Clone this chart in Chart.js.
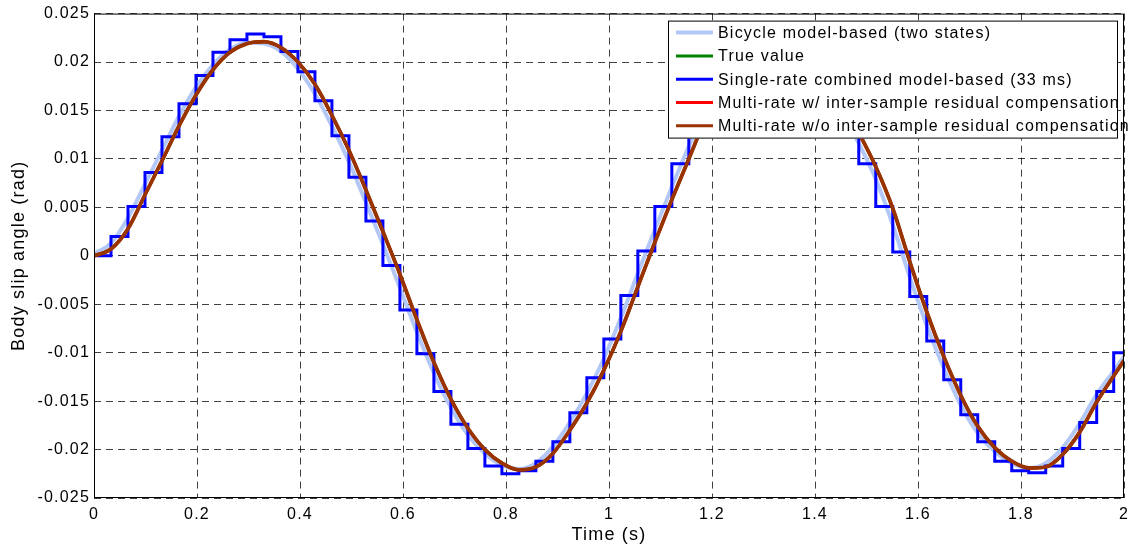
<!DOCTYPE html>
<html>
<head>
<meta charset="utf-8">
<title>Body slip angle</title>
<script src="https://cdn.jsdelivr.net/npm/chart.js@4.4.1/dist/chart.umd.min.js"></script>
<style>
  html, body { margin: 0; padding: 0; background: #fff; }
  #wrap { width: 1137px; height: 551px; position: relative; }
</style>
</head>
<body>
<div id="wrap"><canvas id="slipChart"></canvas></div>
<script>
// sample instants of the 33 ms estimator (last entry closes the plot at 2 s)
const sampleTimes = [
  0, 0.033, 0.066, 0.099, 0.132, 0.165, 0.198, 0.231, 0.264, 0.297,
  0.33, 0.363, 0.396, 0.429, 0.462, 0.495, 0.528, 0.561, 0.594, 0.627,
  0.66, 0.693, 0.726, 0.759, 0.792, 0.825, 0.858, 0.891, 0.924, 0.957,
  0.99, 1.023, 1.056, 1.089, 1.122, 1.155, 1.188, 1.221, 1.254, 1.287,
  1.32, 1.353, 1.386, 1.419, 1.452, 1.485, 1.518, 1.551, 1.584, 1.617,
  1.65, 1.683, 1.716, 1.749, 1.782, 1.815, 1.848, 1.881, 1.914, 1.947,
  1.98, 2.0
];

// bicycle model-based estimate (two states)
const bicycleSlip = [
  0.0002, 0.0013, 0.0039, 0.0074, 0.0109, 0.0144, 0.0174, 0.0197, 0.0213, 0.0220,
  0.0219, 0.0211, 0.0193, 0.0167, 0.0134, 0.0097, 0.0055, 0.0012, -0.0033, -0.0079,
  -0.0121, -0.0157, -0.0185, -0.0204, -0.0216, -0.0220, -0.0214, -0.0197, -0.0172, -0.0142,
  -0.0106, -0.0064, -0.0018, 0.0027, 0.0071, 0.0113, 0.0152, 0.0183, 0.0205, 0.0217,
  0.0220, 0.0215, 0.0199, 0.0177, 0.0149, 0.0116, 0.0079, 0.0032, -0.0022, -0.0072,
  -0.0116, -0.0154, -0.0183, -0.0202, -0.0214, -0.0219, -0.0214, -0.0198, -0.0173, -0.0143,
  -0.0119, -0.0104
];

// measured body slip angle
const trueSlip = [
  0, 0.0007, 0.0028, 0.0063, 0.0098, 0.0134, 0.0166, 0.0192, 0.0210, 0.0219,
  0.0221, 0.0215, 0.0200, 0.0177, 0.0145, 0.0109, 0.0068, 0.0025, -0.0019, -0.0066,
  -0.0110, -0.0148, -0.0178, -0.0200, -0.0214, -0.0221, -0.0218, -0.0204, -0.0180, -0.0152,
  -0.0118, -0.0078, -0.0032, 0.0014, 0.0058, 0.0100, 0.0142, 0.0176, 0.0200, 0.0215,
  0.0221, 0.0219, 0.0205, 0.0185, 0.0159, 0.0127, 0.0092, 0.0049, -0.0006, -0.0058,
  -0.0104, -0.0144, -0.0176, -0.0198, -0.0212, -0.0219, -0.0218, -0.0205, -0.0182, -0.0151,
  -0.0124, -0.0108
];

// single-rate combined estimate, held over each 33 ms interval
const singleRateSlip = [
  0, 0.0020, 0.0051, 0.0086, 0.0123, 0.0157, 0.0186, 0.0210, 0.0223, 0.0229,
  0.0226, 0.0211, 0.0190, 0.0160, 0.0124, 0.0081, 0.0036, -0.0010, -0.0056, -0.0101,
  -0.0140, -0.0174, -0.0199, -0.0217, -0.0225, -0.0222, -0.0212, -0.0192, -0.0162, -0.0126,
  -0.0086, -0.0041, 0.0005, 0.0051, 0.0095, 0.0135, 0.0170, 0.0198, 0.0216, 0.0225,
  0.0225, 0.0216, 0.0198, 0.0172, 0.0135, 0.0095, 0.0051, 0.0004, -0.0042, -0.0088,
  -0.0128, -0.0164, -0.0192, -0.0212, -0.0222, -0.0224, -0.0217, -0.0199, -0.0172, -0.0140,
  -0.0100, -0.0100
];

// multi-rate estimates lie on top of the measured value
const multiRateWithComp = trueSlip;
const multiRateWithoutComp = trueSlip;

const xTicks = [0, 0.2, 0.4, 0.6, 0.8, 1, 1.2, 1.4, 1.6, 1.8, 2];
const yTicks = [-0.025, -0.02, -0.015, -0.01, -0.005, 0, 0.005, 0.01, 0.015, 0.02, 0.025];

const FONT = "'Liberation Sans', Arial, Helvetica, sans-serif";

function toPoints(values) {
  return values.map((v, i) => ({ x: sampleTimes[i], y: v }));
}

// MATLAB style box around the axes plus a boxed legend inside the plot
const axesBox = {
  id: 'axesBox',
  beforeDraw(chart) {
    chart.ctx.letterSpacing = '1.2px';
  },
  afterDraw(chart) {
    const { ctx, chartArea: a } = chart;
    ctx.save();
    ctx.strokeStyle = '#000';
    ctx.lineWidth = 1;
    ctx.strokeRect(a.left + 0.5, a.top + 0.5, a.right - a.left - 1, a.bottom - a.top - 1);

    const boxR = a.right - 6, boxL = boxR - 450;
    const boxT = a.top + 7, boxB = boxT + 118;
    ctx.fillStyle = '#fff';
    ctx.fillRect(boxL, boxT, boxR - boxL, boxB - boxT);
    ctx.strokeRect(boxL + 0.5, boxT + 0.5, boxR - boxL - 1, boxB - boxT - 1);

    ctx.font = '16px ' + FONT;
    ctx.textBaseline = 'middle';
    ctx.textAlign = 'left';
    ctx.letterSpacing = '1.2px';
    chart.data.datasets.forEach((ds, i) => {
      const y = boxT + 12 + i * 23.3;
      ctx.strokeStyle = ds.borderColor;
      ctx.lineWidth = ds.legendWidth;
      ctx.beginPath();
      ctx.moveTo(boxL + 8, y);
      ctx.lineTo(boxL + 45, y);
      ctx.stroke();
      ctx.fillStyle = '#000';
      ctx.fillText(ds.label, boxL + 50, y + 1);
    });
    ctx.restore();
  }
};

const ctx = document.getElementById('slipChart').getContext('2d');

new Chart(ctx, {
  type: 'line',
  data: {
    datasets: [
      {
        label: 'Bicycle model-based (two states)',
        data: toPoints(bicycleSlip),
        borderColor: '#b4c8f8',
        borderWidth: 4,
        legendWidth: 4,
        cubicInterpolationMode: 'monotone',
        order: 5
      },
      {
        label: 'True value',
        data: toPoints(trueSlip),
        borderColor: '#008000',
        borderWidth: 3,
        legendWidth: 3,
        cubicInterpolationMode: 'monotone',
        order: 4
      },
      {
        label: 'Single-rate combined model-based (33 ms)',
        data: toPoints(singleRateSlip),
        borderColor: '#0000ff',
        borderWidth: 3,
        legendWidth: 3,
        stepped: 'before',
        order: 3
      },
      {
        label: 'Multi-rate w/ inter-sample residual compensation',
        data: toPoints(multiRateWithComp),
        borderColor: '#ff0000',
        borderWidth: 3,
        legendWidth: 3,
        cubicInterpolationMode: 'monotone',
        order: 2
      },
      {
        label: 'Multi-rate w/o inter-sample residual compensation',
        data: toPoints(multiRateWithoutComp),
        borderColor: '#993300',
        borderWidth: 3.8,
        legendWidth: 3,
        cubicInterpolationMode: 'monotone',
        order: 1
      }
    ]
  },
  options: {
    responsive: true,
    maintainAspectRatio: false,
    animation: false,
    layout: { padding: { top: 13, right: 13, left: 0, bottom: 0 } },
    elements: { point: { radius: 0 } },
    plugins: {
      legend: { display: false },
      tooltip: { enabled: false }
    },
    scales: {
      x: {
        type: 'linear',
        min: 0,
        max: 2,
        afterFit: (s) => { s.height = 53; },
        afterBuildTicks: (s) => { s.ticks = xTicks.map(v => ({ value: v })); },
        ticks: {
          color: '#000',
          padding: 7,
          maxRotation: 0,
          autoSkip: false,
          font: { family: FONT, size: 16 },
          callback: (v) => String(v)
        },
        grid: { color: 'rgba(0,0,0,0.75)', lineWidth: 1, drawTicks: false },
        border: { display: false, dash: [7, 5] },
        title: {
          display: true,
          text: 'Time (s)',
          color: '#000',
          font: { family: FONT, size: 18 },
          padding: { top: 0, bottom: 5 }
        }
      },
      y: {
        type: 'linear',
        min: -0.025,
        max: 0.025,
        afterFit: (s) => { s.width = 94; },
        afterBuildTicks: (s) => { s.ticks = yTicks.map(v => ({ value: v })); },
        ticks: {
          color: '#000',
          padding: 4,
          autoSkip: false,
          font: { family: FONT, size: 16 },
          callback: (v) => String(+v.toFixed(3))
        },
        grid: { color: 'rgba(0,0,0,0.75)', lineWidth: 1, drawTicks: false },
        border: { display: false, dash: [7, 5] },
        title: {
          display: true,
          text: 'Body slip angle (rad)',
          color: '#000',
          font: { family: FONT, size: 18 },
          padding: { top: 8, bottom: 0 }
        }
      }
    }
  },
  plugins: [axesBox]
});
</script>
</body>
</html>
